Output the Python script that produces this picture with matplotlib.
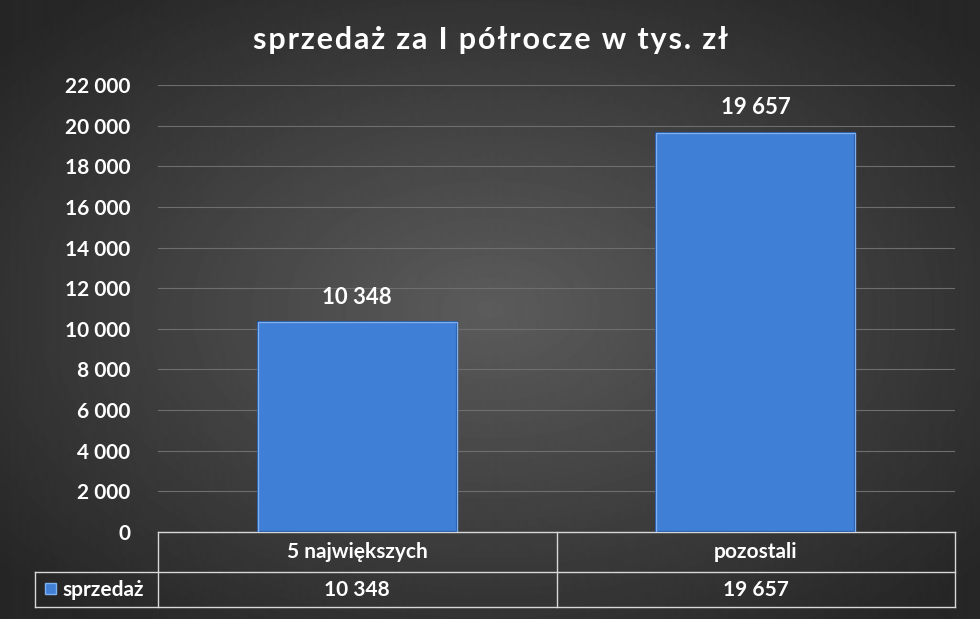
import matplotlib.pyplot as plt
import numpy as np
from matplotlib.patches import Rectangle

plt.rcParams['font.family'] = ['Lato', 'DejaVu Sans']

categories = ['5 największych', 'pozostali']
values = [10348, 19657]
series_name = 'sprzedaż'
title = 'sprzedaż za I półrocze w tys. zł'
yticks = list(range(0, 22001, 2000))

def fmt(v):
    return f'{v:,}'.replace(',', ' ')

W, H = 980, 619
fig = plt.figure(figsize=(W / 100, H / 100), dpi=100)

# radial gradient background
bg = fig.add_axes([0, 0, 1, 1])
yy, xx = np.mgrid[0:H, 0:W]
r = np.sqrt(((xx - W / 2) / (W * 0.62)) ** 2 + ((yy - H / 2) / (H * 0.62)) ** 2)
shade = np.clip(0.36 - 0.2 * r, 0.15, 0.36)
bg.imshow(shade, cmap='gray', vmin=0, vmax=1, aspect='auto', extent=[0, W, H, 0])
bg.set_xlim(0, W)
bg.set_ylim(H, 0)
bg.axis('off')

# plot area in pixels: x 158..955, y 85..532
x0, x1, ytop, ybot = 158, 955, 85, 532
ax = fig.add_axes([x0 / W, 1 - ybot / H, (x1 - x0) / W, (ybot - ytop) / H])
ax.patch.set_alpha(0)
ax.set_xlim(-0.5, len(categories) - 0.5)
ax.set_ylim(0, 22000)
ax.set_yticks(yticks)
ax.set_yticklabels([fmt(t) for t in yticks], color='white', fontsize=15, fontweight='bold')
ax.set_xticks([])
ax.tick_params(axis='y', length=0, pad=20)
ax.grid(axis='y', color='#6e6e6e', linewidth=0.8)
ax.set_axisbelow(True)
for s in ax.spines.values():
    s.set_visible(False)

bars = ax.bar(range(len(categories)), values, width=0.5, color='#3f7fd6',
              edgecolor='#1f4f9a', linewidth=1.5, zorder=3)
for b, v in zip(bars, values):
    ax.add_patch(Rectangle((b.get_x(), 0), b.get_width(), v, facecolor='none',
                           edgecolor='#7fb0f0', linewidth=1, zorder=4))
    ax.text(b.get_x() + b.get_width() / 2, v + 700, fmt(v), ha='center', va='bottom',
            color='white', fontsize=16, fontweight='bold')

# title with wider letter spacing, like the original
fig.text(0.5, 1 - 40 / H, '\u200a'.join(title), ha='center', va='center', color='white',
         fontsize=22, fontweight='bold', family=['Lato', 'DejaVu Sans'])

# data table
lc = '#d8d8d8'
rows = [532, 572, 607]
cols = [x0, (x0 + x1) / 2, x1]
for yv in rows:
    bg.plot([x0 if yv == rows[0] else 35, x1], [yv, yv], color=lc, lw=1)
bg.plot([35, 35], [rows[1], rows[2]], color=lc, lw=1)
for xv in cols:
    bg.plot([xv, xv], [rows[0], rows[2]], color=lc, lw=1)
for i, (c, v) in enumerate(zip(categories, values)):
    xc = (cols[i] + cols[i + 1]) / 2
    bg.text(xc, (rows[0] + rows[1]) / 2, c, ha='center', va='center', color='white',
            fontsize=15, fontweight='bold')
    bg.text(xc, (rows[1] + rows[2]) / 2, fmt(v), ha='center', va='center', color='white',
            fontsize=15, fontweight='bold')
bg.add_patch(Rectangle((45, 583), 11, 11, facecolor='#3f7fd6', edgecolor='#7fb0f0', lw=1))
bg.text(62, (rows[1] + rows[2]) / 2, series_name, ha='left', va='center', color='white',
        fontsize=15, fontweight='bold')

fig.savefig('out.png', dpi=100)
